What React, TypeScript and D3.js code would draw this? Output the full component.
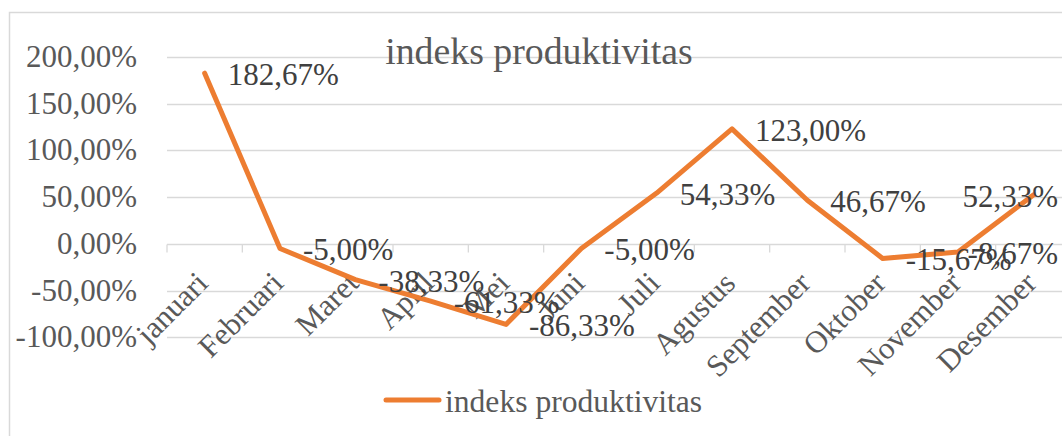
import React, { useEffect, useRef } from 'react';
import * as d3 from 'd3';

// data
const months = ['januari', 'Februari', 'Maret', 'April', 'Mei', 'Juni', 'Juli', 'Agustus', 'September', 'Oktober', 'November', 'Desember'];
const values = [182.67, -5, -38.33, -61.33, -86.33, -5, 54.33, 123, 46.67, -15.67, -8.67, 52.33];
const yTicks = [-100, -50, 0, 50, 100, 150, 200];
const seriesName = 'indeks produktivitas';
const title = 'indeks produktivitas';

// Indonesian style: comma decimals, plain hyphen for minus
const fmt = (v: number) => d3.format('.2f')(v).replace('\u2212', '-').replace('.', ',') + '%';

const App = () => {
  const svgRef = useRef<SVGSVGElement>(null);

  useEffect(() => {
    const width = 1062;
    const height = 436;
    const font = '"Liberation Serif", "Times New Roman", serif';
    const orange = '#ED7D31';
    const grid = '#D9D9D9';

    const svg = d3.select(svgRef.current);
    svg.selectAll('*').remove();

    svg.append('rect').attr('width', width).attr('height', height).attr('fill', '#fff');

    // chart area border (runs off the right and bottom of the picture)
    svg.append('rect')
      .attr('x', 9.5).attr('y', 12.5)
      .attr('width', 1200).attr('height', 600)
      .attr('fill', 'none').attr('stroke', grid).attr('stroke-width', 1.5);

    const x = d3.scaleBand<string>().domain(months).range([167, 1071]);
    const y = d3.scaleLinear().domain([-100, 200]).range([337.2, 57]);
    const cx = (m: string) => (x(m) as number) + x.bandwidth() / 2;

    // gridlines
    svg.append('g')
      .selectAll('line')
      .data(yTicks)
      .enter().append('line')
      .attr('x1', 167).attr('x2', 1071)
      .attr('y1', d => Math.round(y(d)) + 0.5).attr('y2', d => Math.round(y(d)) + 0.5)
      .attr('stroke', grid).attr('stroke-width', 1.3);

    // category axis at zero with tick marks
    const y0 = Math.round(y(0)) + 0.5;
    const tickXs = months.map(m => x(m) as number).concat([1071]);
    svg.append('g')
      .selectAll('line')
      .data(tickXs)
      .enter().append('line')
      .attr('x1', d => d).attr('x2', d => d)
      .attr('y1', y0).attr('y2', y0 + 8)
      .attr('stroke', grid).attr('stroke-width', 1.3);

    // y labels
    svg.append('g')
      .selectAll('text')
      .data(yTicks)
      .enter().append('text')
      .attr('x', 137)
      .attr('y', d => y(d) + 10)
      .attr('text-anchor', 'end')
      .attr('font-family', font).attr('font-size', 31)
      .attr('fill', '#595959')
      .text(d => fmt(d));

    // category labels
    svg.append('g')
      .selectAll('text')
      .data(months)
      .enter().append('text')
      .attr('transform', d => `translate(${cx(d) + 5},285) rotate(-45)`)
      .attr('text-anchor', 'end')
      .attr('font-family', font).attr('font-size', 31)
      .attr('fill', '#595959')
      .text(d => d);

    // title
    svg.append('text')
      .attr('x', 539).attr('y', 64)
      .attr('text-anchor', 'middle')
      .attr('font-family', font).attr('font-size', 37.8)
      .attr('fill', '#595959')
      .text(title);

    // series line
    const line = d3.line<number>()
      .x((_, i) => cx(months[i]))
      .y(d => y(d));
    svg.append('path')
      .datum(values)
      .attr('d', line)
      .attr('fill', 'none')
      .attr('stroke', orange).attr('stroke-width', 5)
      .attr('stroke-linejoin', 'round').attr('stroke-linecap', 'round');

    // data labels, right of each point, kept inside the picture
    svg.append('g')
      .selectAll('text')
      .data(values)
      .enter().append('text')
      .attr('x', (_, i) => cx(months[i]) + 23)
      .attr('y', d => y(d) + 12)
      .attr('font-family', font).attr('font-size', 31)
      .attr('fill', '#404040')
      .text(d => fmt(d))
      .each(function () {
        const t = this as SVGTextElement;
        const w = t.getComputedTextLength();
        const left = +t.getAttribute('x')!;
        if (left + w > 1058) t.setAttribute('x', String(1058 - w));
      });

    // legend
    svg.append('line')
      .attr('x1', 386).attr('x2', 439)
      .attr('y1', 400).attr('y2', 400)
      .attr('stroke', orange).attr('stroke-width', 5).attr('stroke-linecap', 'round');
    svg.append('text')
      .attr('x', 445).attr('y', 412)
      .attr('font-family', font).attr('font-size', 31.6)
      .attr('fill', '#595959')
      .text(seriesName);
  }, []);

  return (
    <svg ref={svgRef} width={1062} height={436}
      style={{ position: 'absolute', left: 0, top: 0, display: 'block' }} />
  );
};

export default App;
